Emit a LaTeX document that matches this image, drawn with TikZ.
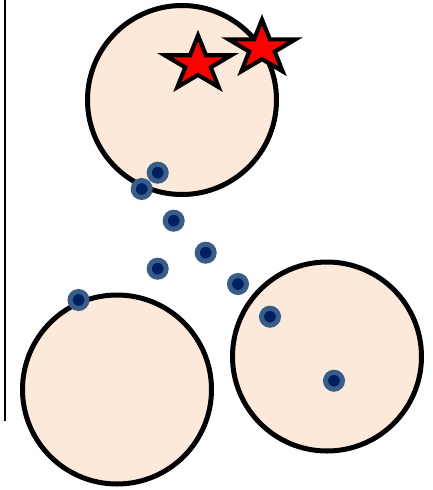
\documentclass[tikz,border=0pt]{standalone}
\definecolor{peach}{HTML}{FDE9D9}
\definecolor{dotedge}{HTML}{385D8A}
\definecolor{dotcore}{HTML}{002060}
\definecolor{starred}{HTML}{FF0000}
\begin{document}
\begin{tikzpicture}[x=1pt,y=-1pt,
  bigcirc/.style={circle,draw=black,fill=peach,line width=5pt,minimum size=189pt,inner sep=0pt},
  dotnode/.style={circle,draw=dotedge,fill=dotcore,line width=5pt,minimum size=17pt,inner sep=0pt},
  starsty/.style={draw=black,fill=starred,line width=4.2pt,line join=miter}]
\useasboundingbox (0,0) rectangle (432,490);
\draw[line width=1.5pt] (5,0) -- (5,421);
\node[bigcirc] (ctop) at (182,100) {};
\node[bigcirc] (cleft) at (117,389.5) {};
\node[bigcirc] (cright) at (327,356.5) {};
\foreach \cx/\cy in {198/64, 262/48.2}{
  \draw[starsty, shift={(\cx,\cy)}]
    (-90:35 and 28.5) -- (-54:13.4 and 10.9) -- (-18:35 and 28.5) -- (18:13.4 and 10.9)
    -- (54:35 and 28.5) -- (90:13.4 and 10.9) -- (126:35 and 28.5) -- (162:13.4 and 10.9)
    -- (198:35 and 28.5) -- (234:13.4 and 10.9) -- cycle;
}
\node[dotnode] (d1) at (157.7,172.7) {};
\node[dotnode] (d2) at (141.7,189) {};
\node[dotnode] (d3) at (173.7,220.7) {};
\node[dotnode] (d4) at (205.7,252.7) {};
\node[dotnode] (d5) at (157.7,268.7) {};
\node[dotnode] (d6) at (238,284) {};
\node[dotnode] (d7) at (270,316.7) {};
\node[dotnode] (d8) at (334,380.7) {};
\node[dotnode] (d9) at (78.5,300) {};
\end{tikzpicture}
\end{document}
